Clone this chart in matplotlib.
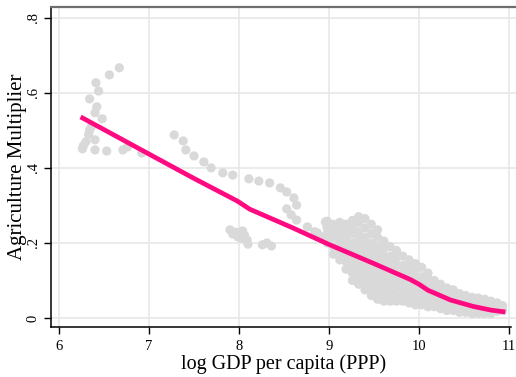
import numpy as np
import matplotlib
matplotlib.use('Agg')
import matplotlib.pyplot as plt

# Agriculture multiplier vs log GDP per capita: scatter + fitted line

# Scattered country-year points (x = log GDP pc, y = multiplier)
left_cluster = [(6.67, 0.667), (6.56, 0.648), (6.41, 0.627), (6.44, 0.605), (6.34, 0.584),
                (6.42, 0.563), (6.40, 0.547), (6.48, 0.531), (6.36, 0.510), (6.34, 0.501),
                (6.33, 0.490), (6.40, 0.475), (6.27, 0.459), (6.26, 0.451), (6.40, 0.448),
                (6.53, 0.445), (6.71, 0.448), (6.76, 0.456), (6.92, 0.440), (6.30, 0.470)]

mid_arc = [(7.28, 0.488), (7.38, 0.472), (7.41, 0.448), (7.50, 0.432), (7.61, 0.416),
           (7.69, 0.400), (7.82, 0.387), (7.93, 0.381), (8.11, 0.371), (8.22, 0.365),
           (8.34, 0.360), (8.46, 0.347), (8.53, 0.336), (8.61, 0.320), (8.64, 0.301),
           (8.53, 0.291), (8.58, 0.275), (8.64, 0.261), (8.76, 0.243), (8.87, 0.227),
           (8.96, 0.256), (8.98, 0.240), (9.01, 0.221), (8.93, 0.216), (8.84, 0.230)]

low_cluster = [(7.90, 0.235), (7.96, 0.229), (8.01, 0.227), (8.04, 0.232), (7.99, 0.216),
               (8.03, 0.213), (8.09, 0.208), (8.10, 0.197), (8.26, 0.195), (8.31, 0.200),
               (8.36, 0.192), (7.93, 0.224), (8.06, 0.221)]

# dense part of the cloud, read column by column
dense_x = [8.98, 9.05, 9.12, 9.19, 9.26, 9.33, 9.40, 9.47, 9.54, 9.61, 9.68, 9.75, 9.82,
           9.89, 9.96, 10.03, 10.10, 10.17, 10.24, 10.31, 10.38, 10.45, 10.52, 10.59,
           10.66, 10.73, 10.80, 10.87, 10.93]
dense_y = [[0.200, 0.225, 0.245, 0.258],
           [0.170, 0.190, 0.215, 0.235, 0.250],
           [0.155, 0.175, 0.200, 0.220, 0.240, 0.255],
           [0.130, 0.150, 0.170, 0.190, 0.210, 0.230, 0.250],
           [0.100, 0.120, 0.140, 0.160, 0.180, 0.200, 0.225, 0.245, 0.260],
           [0.090, 0.110, 0.130, 0.150, 0.170, 0.190, 0.210, 0.230, 0.255, 0.270],
           [0.075, 0.095, 0.115, 0.135, 0.155, 0.175, 0.195, 0.215, 0.240, 0.265],
           [0.060, 0.080, 0.100, 0.120, 0.140, 0.160, 0.180, 0.200, 0.225, 0.250],
           [0.050, 0.070, 0.090, 0.110, 0.130, 0.150, 0.170, 0.190, 0.215, 0.235],
           [0.045, 0.065, 0.085, 0.105, 0.125, 0.145, 0.165, 0.185, 0.205],
           [0.045, 0.065, 0.085, 0.105, 0.125, 0.145, 0.165, 0.190],
           [0.045, 0.060, 0.080, 0.100, 0.120, 0.140, 0.160, 0.180],
           [0.045, 0.060, 0.080, 0.100, 0.120, 0.140, 0.165],
           [0.040, 0.055, 0.075, 0.095, 0.115, 0.135, 0.155],
           [0.035, 0.050, 0.070, 0.090, 0.110, 0.130, 0.145],
           [0.035, 0.050, 0.070, 0.090, 0.110, 0.135],
           [0.030, 0.045, 0.065, 0.085, 0.105, 0.120],
           [0.030, 0.045, 0.060, 0.080, 0.100],
           [0.025, 0.040, 0.055, 0.075, 0.090],
           [0.020, 0.035, 0.050, 0.065, 0.080],
           [0.020, 0.030, 0.045, 0.060, 0.075],
           [0.015, 0.030, 0.045, 0.065],
           [0.015, 0.028, 0.042, 0.060],
           [0.012, 0.025, 0.040, 0.055],
           [0.012, 0.025, 0.040, 0.053],
           [0.012, 0.025, 0.038, 0.050],
           [0.012, 0.025, 0.045],
           [0.018, 0.030, 0.040],
           [0.020, 0.033]]

# fitted line
fit_x = [6.24, 7.00, 7.50, 7.98, 8.12, 8.60, 9.00, 9.50, 9.90, 10.00, 10.10, 10.35, 10.60, 10.80, 10.96]
fit_y = [0.536, 0.437, 0.372, 0.312, 0.290, 0.240, 0.196, 0.145, 0.103, 0.090, 0.074, 0.048, 0.031, 0.021, 0.016]

xticks = [6, 7, 8, 9, 10, 11]
yticks = [0, 0.2, 0.4, 0.6, 0.8]
ylabels = ['0', '.2', '.4', '.6', '.8']

pts = left_cluster + mid_arc + low_cluster
px = [p[0] for p in pts]
py = [p[1] for p in pts]
for x, ys in zip(dense_x, dense_y):
    px += [x] * len(ys)
    py += ys

plt.rcParams['font.family'] = ['Liberation Serif', 'DejaVu Serif']

fig = plt.figure(figsize=(5.16, 3.77), dpi=100)
ax = fig.add_axes([51 / 516, 50 / 377, 465 / 516, 320 / 377])

ax.set_xlim(5.911, 11.078)
ax.set_ylim(-0.024, 0.829)

for t in xticks:
    ax.axvline(t, color='#e6e6e6', lw=1.1, zorder=0)
for t in yticks:
    ax.axhline(t, color='#e6e6e6', lw=1.1, zorder=0)

ax.scatter(px, py, s=44, color='#d9d9d9', edgecolors='none', zorder=2)
ax.plot(fit_x, fit_y, color='#ff0a80', lw=3.4, solid_capstyle='butt', zorder=3)

ax.set_xticks(xticks)
ax.set_xticklabels([str(t) for t in xticks], fontsize=10.5)
ax.set_yticks(yticks)
ax.set_yticklabels(ylabels, fontsize=10.5, rotation=90, va='center')
ax.tick_params(axis='both', direction='out', length=5, width=1, color='black', pad=4)
ax.tick_params(axis='y', pad=3)

ax.spines['right'].set_visible(False)
ax.spines['top'].set_color('#6e6e6e')
ax.spines['top'].set_linewidth(1.6)
ax.spines['left'].set_linewidth(1.1)
ax.spines['bottom'].set_linewidth(1.1)
ax.spines['bottom'].set_bounds(5.911, 11.02)

ax.set_xlabel('log GDP per capita (PPP)', fontsize=14.5, labelpad=1)
ax.set_ylabel('Agriculture Multiplier', fontsize=15, labelpad=0)

fig.savefig('out.png', dpi=100)
